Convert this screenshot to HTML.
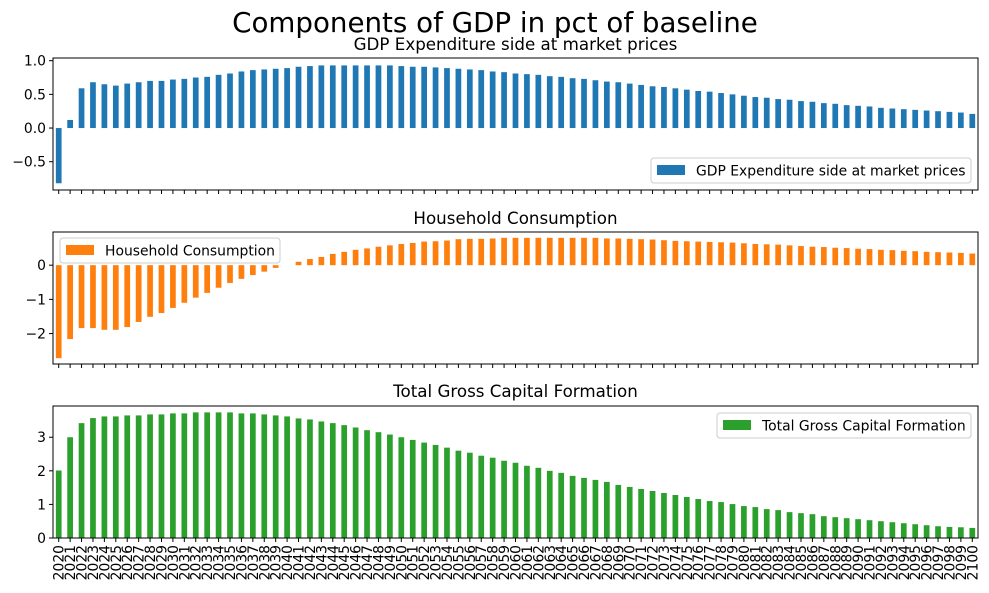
<!DOCTYPE html>
<html><head><meta charset="utf-8"><style>
body{margin:0;background:#fff}
svg{display:block;font-family:"DejaVu Sans","Liberation Sans",sans-serif}
</style></head><body>
<svg id="chart" width="989" height="593" viewBox="0 0 989 593">
<text x="495" y="32" text-anchor="middle" font-size="27.7" fill="#000">Components of GDP in pct of baseline</text>
</svg>
<script>
const years = [];
for (let y = 2020; y <= 2100; y++) years.push(String(y));
const gdpValues = [-0.82,0.12,0.59,0.68,0.65,0.63,0.66,0.68,0.70,0.70,
0.72,0.73,0.75,0.76,0.79,0.81,0.84,0.86,0.87,0.88,
0.89,0.91,0.92,0.93,0.93,0.93,0.93,0.93,0.93,0.93,
0.92,0.91,0.91,0.90,0.89,0.88,0.87,0.86,0.84,0.83,
0.81,0.80,0.79,0.77,0.76,0.74,0.73,0.71,0.69,0.68,
0.66,0.64,0.62,0.61,0.59,0.57,0.55,0.54,0.52,0.50,
0.48,0.46,0.45,0.43,0.42,0.40,0.39,0.37,0.36,0.34,
0.33,0.32,0.30,0.29,0.28,0.27,0.26,0.25,0.24,0.23,
0.21];
const householdValues = [-2.72,-2.16,-1.84,-1.84,-1.89,-1.89,-1.81,-1.66,-1.51,-1.40,
-1.25,-1.10,-0.95,-0.81,-0.66,-0.52,-0.40,-0.29,-0.19,-0.08,
0.0,0.10,0.18,0.24,0.33,0.39,0.45,0.49,0.54,0.58,
0.62,0.65,0.69,0.70,0.72,0.76,0.77,0.77,0.78,0.80,
0.80,0.80,0.80,0.80,0.80,0.80,0.80,0.80,0.78,0.78,
0.77,0.76,0.75,0.73,0.71,0.70,0.69,0.68,0.67,0.66,
0.64,0.62,0.61,0.60,0.58,0.56,0.54,0.53,0.51,0.50,
0.48,0.47,0.45,0.44,0.42,0.41,0.39,0.38,0.37,0.36,
0.34];
const capitalValues = [2.01,3.00,3.42,3.57,3.62,3.62,3.65,3.65,3.68,3.68,
3.71,3.71,3.74,3.74,3.74,3.74,3.71,3.71,3.68,3.65,
3.62,3.56,3.53,3.47,3.42,3.36,3.29,3.21,3.15,3.08,
3.00,2.92,2.84,2.77,2.69,2.60,2.54,2.45,2.39,2.30,
2.24,2.15,2.09,2.00,1.94,1.85,1.79,1.73,1.67,1.58,
1.52,1.46,1.40,1.34,1.28,1.22,1.16,1.10,1.07,1.01,
0.95,0.92,0.86,0.83,0.77,0.74,0.71,0.65,0.62,0.59,
0.56,0.53,0.50,0.47,0.44,0.41,0.38,0.35,0.33,0.32,
0.30];
const gdpTicks = [-0.5,0.0,0.5,1.0];
const gdpTickLabels = ["\u22120.5","0.0","0.5","1.0"];
const hhTicks = [-2,-1,0];
const hhTickLabels = ["\u22122","\u22121","0"];
const capTicks = [0,1,2,3];
const capTickLabels = ["0","1","2","3"];

const NS = "http://www.w3.org/2000/svg";
const svg = document.getElementById('chart');
function mk(tag, attrs, parent) {
  const e = document.createElementNS(NS, tag);
  for (const k in attrs) e.setAttribute(k, attrs[k]);
  (parent || svg).appendChild(e);
  return e;
}
const X0 = 53, X1 = 978;
function xScale(i) { return X0 + (i + 0.5) * (X1 - X0) / years.length; }
const slot = (X1 - X0) / years.length;

const panels = [
  {key:'gdp', title:'GDP Expenditure side at market prices', vals:gdpValues, ticks:gdpTicks, labels:gdpTickLabels, color:'#1f77b4', top:58, bottom:190, ymin:-0.92, ymax:1.04, titleY:50, legend:{x:651,y:158,w:320}},
  {key:'household', title:'Household Consumption', vals:householdValues, ticks:hhTicks, labels:hhTickLabels, color:'#ff7f0e', top:232, bottom:364, ymin:-2.89, ymax:0.97, titleY:224, legend:{x:60,y:238,w:220}},
  {key:'capital', title:'Total Gross Capital Formation', vals:capitalValues, ticks:capTicks, labels:capTickLabels, color:'#2ca02c', top:406, bottom:538, ymin:0, ymax:3.93, titleY:397, legend:{x:717,y:413,w:254}}
];

panels.forEach((p, pi) => {
  const g = mk('g', {});
  
  
  const yScale = v => p.bottom - (v - p.ymin) / (p.ymax - p.ymin) * (p.bottom - p.top);
  const t = mk('text', {x:(X0+X1)/2, y:p.titleY, 'text-anchor':'middle', 'font-size':16.7}, g);
  t.textContent = p.title;
  
  
  const y0 = yScale(0);
  p.vals.forEach((v, i) => {
    const yv = yScale(v);
    const r = mk('rect', {x:xScale(i) - slot*0.25, y:Math.min(y0, yv), width:slot*0.5, height:Math.abs(yv - y0), fill:p.color}, g);
    
    
  });
  mk('rect', {x:X0, y:p.top, width:X1-X0, height:p.bottom-p.top, fill:'none', stroke:'#000', 'stroke-width':1}, g);
  p.ticks.forEach((tv, ti) => {
    const yy = yScale(tv);
    mk('line', {x1:X0-4, x2:X0, y1:yy, y2:yy, stroke:'#000'}, g);
    const tl = mk('text', {x:X0-7, y:yy+5, 'text-anchor':'end', 'font-size':13.9}, g);
    tl.textContent = p.labels[ti];
    
    
  });
  years.forEach((yr, i) => {
    const xx = xScale(i);
    mk('line', {x1:xx, x2:xx, y1:p.bottom, y2:p.bottom+4, stroke:'#000'}, g);
    if (pi === 2) {
      const xl = mk('text', {x:0, y:0, 'text-anchor':'end', 'font-size':13.9, transform:`translate(${xx+5},${p.bottom+7}) rotate(-90)`}, g);
      xl.textContent = yr;
      
      
    }
  });
  const L = p.legend;
  const lg = mk('g', {}, g);
  
  
  mk('rect', {x:L.x, y:L.y, width:L.w, height:25, rx:3, fill:'#fff', 'fill-opacity':0.8, stroke:'#ccc'}, lg);
  mk('rect', {x:L.x+6, y:L.y+7, width:28, height:10, fill:p.color}, lg);
  const lt = mk('text', {x:L.x+45, y:L.y+17.5, 'font-size':13.9}, lg);
  lt.textContent = p.title;
  
  
});
</script>
</body></html>
